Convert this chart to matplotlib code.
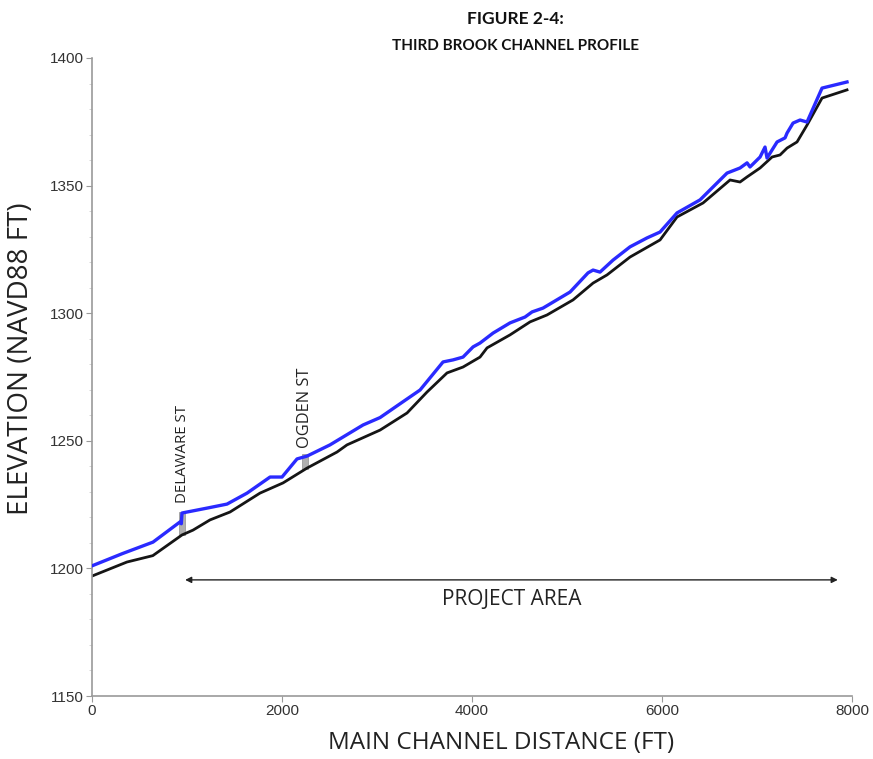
import matplotlib.pyplot as plt
from matplotlib.ticker import MultipleLocator

# Water surface profile (blue) - distance (ft) / elevation (ft)
ws_dist = [0, 320, 642, 926, 940, 947, 1221, 1421, 1632, 1874, 2000, 2158, 2263,
           2505, 2853, 3032, 3242, 3453, 3695, 3800, 3905, 4011, 4084, 4221, 4400,
           4558, 4632, 4747, 5032, 5221, 5274, 5347, 5484, 5663, 5842, 5979, 6158,
           6400, 6684, 6821, 6895, 6926, 7032, 7084, 7105, 7211, 7295, 7316, 7379,
           7453, 7526, 7684, 7947]
ws_elev = [1201.0, 1205.8, 1210.3, 1218.2, 1217.5, 1221.7, 1223.7, 1225.2, 1229.5,
           1235.8, 1235.8, 1242.9, 1244.0, 1248.4, 1256.2, 1259.1, 1264.5, 1269.9,
           1280.9, 1281.7, 1282.8, 1286.8, 1288.3, 1292.2, 1296.2, 1298.5, 1300.5,
           1302.0, 1308.3, 1315.8, 1316.9, 1316.1, 1320.8, 1326.0, 1329.5, 1331.8,
           1339.3, 1344.4, 1354.9, 1356.9, 1358.9, 1357.3, 1361.2, 1365.1, 1360.8,
           1367.1, 1368.7, 1370.6, 1374.5, 1375.7, 1374.9, 1388.2, 1390.6]

# Channel invert (black)
bed_dist = [0, 368, 640, 947, 1063, 1242, 1453, 1768, 2011, 2263, 2579, 2684, 3032,
            3316, 3526, 3737, 3905, 4084, 4158, 4400, 4611, 4789, 5063, 5274, 5421,
            5663, 5979, 6158, 6432, 6716, 6821, 6895, 7032, 7158, 7242, 7316, 7421,
            7526, 7684, 7947]
bed_elev = [1197.0, 1202.5, 1205.0, 1213.1, 1215.0, 1219.0, 1222.1, 1229.5, 1233.5,
            1239.3, 1245.6, 1248.4, 1254.2, 1260.9, 1269.1, 1276.6, 1278.9, 1282.8,
            1286.4, 1291.5, 1296.6, 1299.3, 1305.2, 1311.8, 1315.0, 1322.0, 1328.7,
            1337.7, 1343.2, 1352.2, 1351.4, 1353.4, 1356.9, 1361.2, 1362.0, 1364.7,
            1367.1, 1373.7, 1384.3, 1387.5]

# Road crossings: name, station, bottom/top of structure
crossings = ["DELAWARE ST", "OGDEN ST"]
crossing_x = [950, 2245]
crossing_lo = [1213.0, 1239.0]
crossing_hi = [1222.0, 1245.0]

project_start, project_end = 980, 7850

TXT = "Open Sans"
TXT_COLOR = "#222222"

fig = plt.figure(figsize=(8.73, 7.59), dpi=100)
ax = fig.add_axes([0.1054, 0.083, 0.8706, 0.8406])

for x, lo, hi in zip(crossing_x, crossing_lo, crossing_hi):
    ax.bar(x, hi - lo, bottom=lo, width=60, color="#b0b0b0", edgecolor="#909090",
           linewidth=0.5, zorder=1)

ax.plot(bed_dist, bed_elev, color="#151515", lw=2.0, zorder=2)
ax.plot(ws_dist, ws_elev, color="#2a2aff", lw=2.4, zorder=3)

label_sizes = [10.8, 11.8]
label_gap = [3.5, 2.0]
for name, x, hi, fs, gap in zip(crossings, crossing_x, crossing_hi, label_sizes, label_gap):
    ax.text(x, hi + gap, name, rotation=90, ha="center", va="bottom",
            fontsize=fs, family=TXT, color=TXT_COLOR)

ax.annotate("", xy=(project_start, 1195.5), xytext=(project_end, 1195.5),
            arrowprops=dict(arrowstyle="<|-|>", color=TXT_COLOR, lw=1.0,
                            mutation_scale=9, shrinkA=0, shrinkB=0))
ax.text((project_start + project_end) / 2, 1188, "PROJECT AREA", ha="center",
        va="center", fontsize=15, family=TXT, color=TXT_COLOR)

ax.set_xlim(0, 8000)
ax.set_ylim(1150, 1400)
ax.set_xticks([0, 2000, 4000, 6000, 8000])
ax.set_yticks([1150, 1200, 1250, 1300, 1350, 1400])
ax.yaxis.set_minor_locator(MultipleLocator(10))
for s in ("top", "right"):
    ax.spines[s].set_visible(False)
for s in ("left", "bottom"):
    ax.spines[s].set_color("#9a9a9a")
    ax.spines[s].set_linewidth(1.2)
ax.tick_params(axis="both", which="major", length=4, color="#9a9a9a",
               labelsize=11, labelcolor="#333333", pad=2)
ax.tick_params(axis="y", which="minor", length=2, color="#d0d0d0")
for lbl in ax.get_xticklabels() + ax.get_yticklabels():
    lbl.set_family("Liberation Sans")

# axis titles placed in figure coordinates
fig.text(0.574, 0.021, "MAIN CHANNEL DISTANCE (FT)", ha="center", va="center",
         fontsize=17.5, family=TXT, color=TXT_COLOR)
fig.text(0.024, 0.528, "ELEVATION (NAVD88 FT)", ha="center", va="center",
         rotation=90, fontsize=20, family=TXT, color=TXT_COLOR)

fig.text(0.59, 0.975, "FIGURE 2-4:", ha="center", va="center", fontsize=12.5,
         family="Lato", weight="bold", color="#111111")
fig.text(0.59, 0.94, "THIRD BROOK CHANNEL PROFILE", ha="center", va="center",
         fontsize=11, family="Lato", weight="bold", color="#111111")

fig.savefig("out.png", dpi=100)
